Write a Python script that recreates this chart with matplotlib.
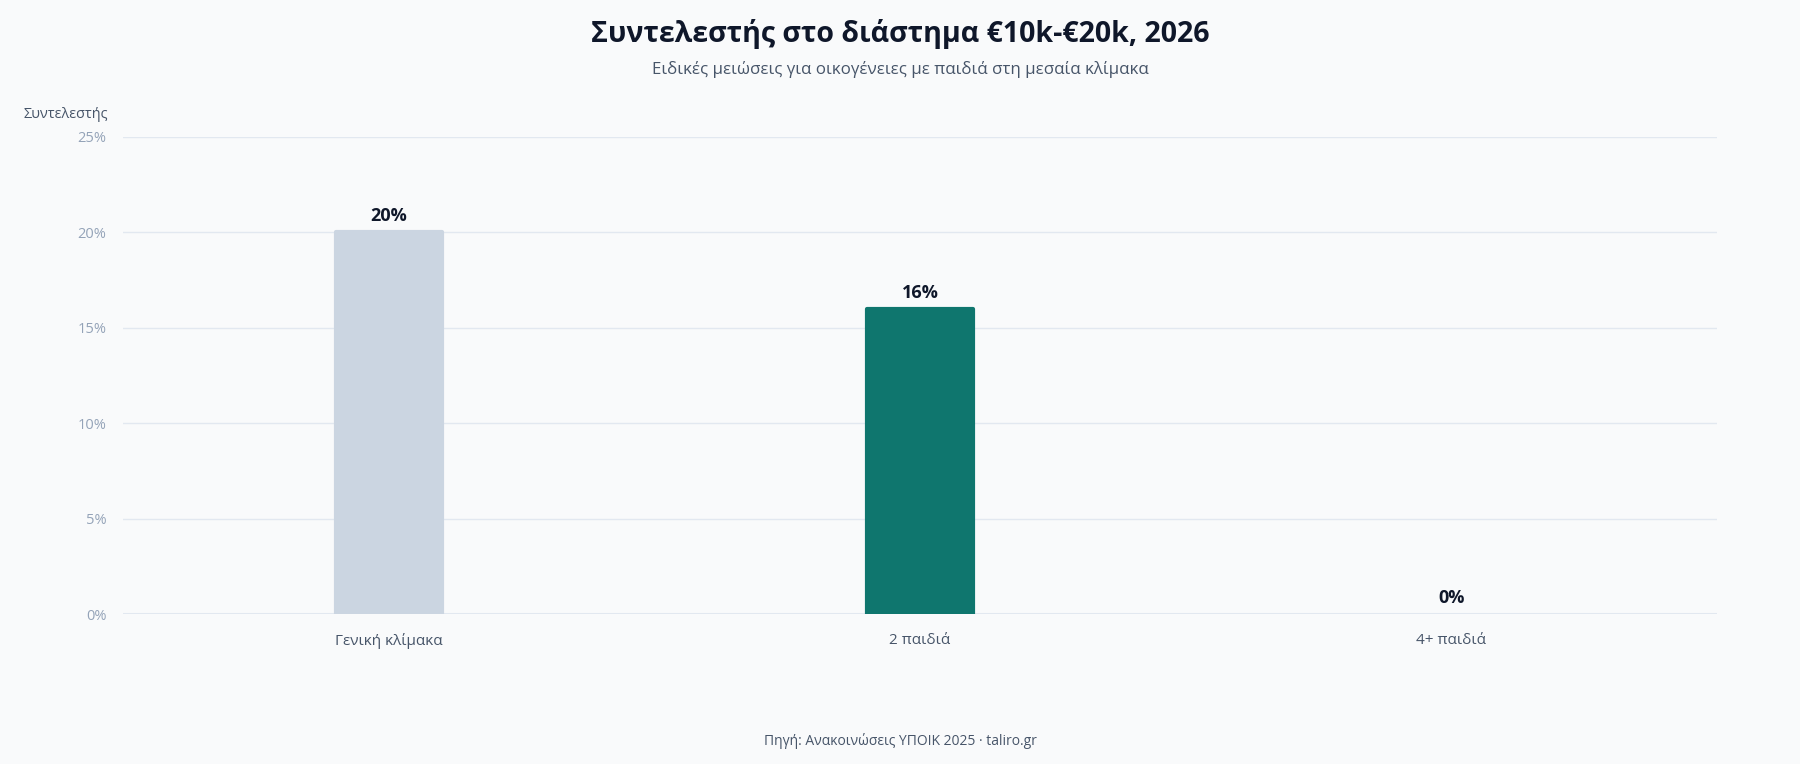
import matplotlib.pyplot as plt
from matplotlib.ticker import FuncFormatter

categories = ["Γενική κλίμακα", "2 παιδιά", "4+ παιδιά"]
rates = [20, 16, 0]
bar_colors = ["#cbd5e1", "#0f766e", "#0f766e"]
y_ticks = [0, 5, 10, 15, 20, 25]

title = "Συντελεστής στο διάστημα €10k-€20k, 2026"
subtitle = "Ειδικές μειώσεις για οικογένειες με παιδιά στη μεσαία κλίμακα"
y_label = "Συντελεστής"
source = "Πηγή: Ανακοινώσεις ΥΠΟΙΚ 2025 · taliro.gr"

plt.rcParams["font.family"] = ["Open Sans", "DejaVu Sans"]

bg = "#f9fafb"
fig = plt.figure(figsize=(18, 7.64), dpi=100, facecolor=bg)
ax = fig.add_axes([123 / 1800, 1 - 614 / 764, 1594 / 1800, 477 / 764])
ax.set_facecolor(bg)

x = range(len(categories))
# thin same-colour edge with round joins gives the bars soft corners
edge_w = [3 if r > 0 else 0 for r in rates]
ax.bar(x, rates, width=0.2, color=bar_colors, edgecolor=bar_colors,
       linewidth=edge_w, joinstyle="round", zorder=3)

for xi, r in zip(x, rates):
    ax.annotate(f"{r}%", (xi, r), xytext=(0, 5), textcoords="offset points",
                ha="center", va="bottom", fontsize=13, fontweight="bold",
                color="#0f172a")

ax.set_xlim(-0.5, len(categories) - 0.5)
ax.set_ylim(0, 25)
ax.set_yticks(y_ticks)
ax.yaxis.set_major_formatter(FuncFormatter(lambda v, _: f"{v:.0f}%"))
ax.set_xticks(list(x))
ax.set_xticklabels(categories)
ax.tick_params(axis="y", length=0, pad=12, labelsize=10.5, labelcolor="#94a3b8")
ax.tick_params(axis="x", length=0, pad=14, labelsize=11, labelcolor="#475569")
ax.grid(axis="y", color="#e2e8f0", linewidth=1, zorder=0)
ax.axhline(0, color="#e2e8f0", linewidth=1.5, zorder=2)
for s in ax.spines.values():
    s.set_visible(False)

fig.text(0.5, 1 - 34 / 764, title, ha="center", va="center",
         fontsize=20.5, fontweight="bold", color="#0f172a")
fig.text(0.5, 1 - 70 / 764, subtitle, ha="center", va="center",
         fontsize=12.2, color="#475569")
fig.text(23 / 1800, 1 - 115 / 764, y_label, ha="left", va="center",
         fontsize=10.4, color="#475569")
fig.text(0.5, 1 - 741 / 764, source, ha="center", va="center",
         fontsize=10, color="#475569")

fig.savefig("out.png", dpi=100, facecolor=bg)
